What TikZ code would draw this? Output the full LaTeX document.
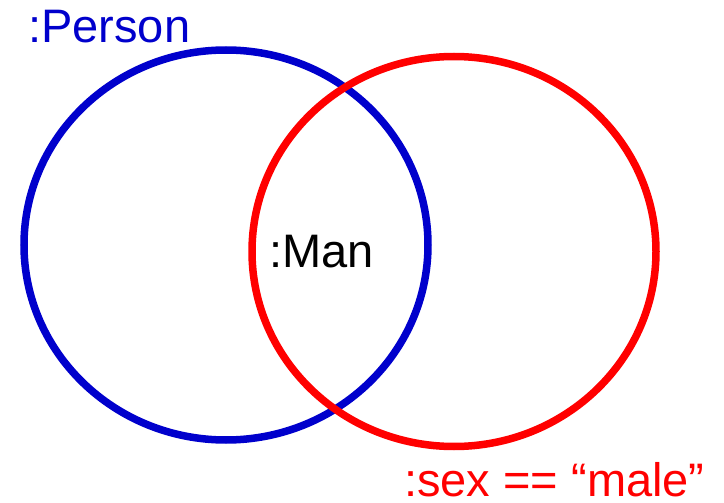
\documentclass[tikz,border=0pt]{standalone}
\usepackage{fontspec}
\setmainfont{Liberation Sans}
\usetikzlibrary{positioning}
\definecolor{setblue}{HTML}{0000CC}
\definecolor{setred}{HTML}{FF0000}

\begin{document}
\begin{tikzpicture}[x=1pt, y=-1pt,
    setring/.style={line width=7.5pt},
    lbl/.style={inner sep=0pt, anchor=base west, font=\fontsize{47}{56}\selectfont}]
  \useasboundingbox (0,0) rectangle (724,503);
  % the two sets
  \draw[setring, setblue] (226,245) ellipse [x radius=202, y radius=195];
  \draw[setring, setred] (454,251.5) ellipse [x radius=202, y radius=195];
  % labels
  \node[lbl, text=setblue] (person) at (28,43) {:Person};
  \node[lbl] (man) at (269,267) {:Man};
  \node[lbl, text=setred] (sex) at (404,496) {:sex == “male”};
\end{tikzpicture}
\end{document}
